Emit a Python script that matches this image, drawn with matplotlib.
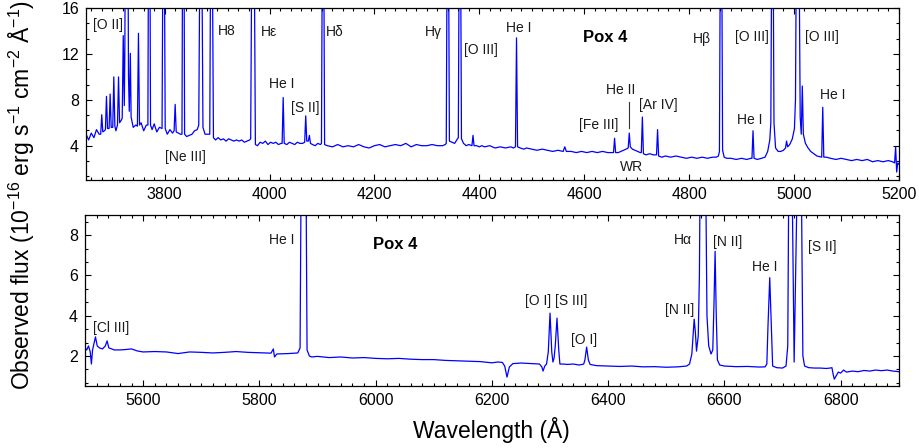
import matplotlib
matplotlib.use("Agg")
import matplotlib.pyplot as plt
from matplotlib.ticker import MultipleLocator

plt.rcParams["font.family"] = ["Liberation Sans", "DejaVu Sans"]
plt.rcParams["mathtext.fontset"] = "custom"
plt.rcParams["mathtext.rm"] = "Liberation Sans"
plt.rcParams["mathtext.it"] = "Liberation Sans:italic"

COLOR_SPEC = "#0000ff"
COLOR_TEXT = "#1a1a1a"

# ---------------------------------------------------------------- blue arm
WAVE_BLUE = [
    3650, 3655, 3660, 3665, 3670, 3675, 3678, 3680, 3682, 3685,
    3687, 3689, 3691, 3694, 3696, 3698, 3701, 3703, 3705, 3707,
    3710, 3712, 3714, 3717, 3719, 3721, 3723, 3724, 3725, 3730,
    3731, 3732.5, 3734.5, 3736, 3740, 3745, 3748, 3750, 3752, 3755,
    3760, 3765, 3768, 3769, 3772, 3773, 3776, 3780, 3785, 3790,
    3795, 3796.5, 3799.5, 3801, 3805, 3810, 3815, 3818, 3820, 3822,
    3826, 3830, 3833, 3834, 3837, 3838, 3842, 3847, 3852, 3857,
    3862, 3865, 3867, 3871, 3873, 3877, 3882, 3886, 3887.5, 3891,
    3893, 3897, 3902, 3907, 3912, 3917, 3922, 3927, 3932, 3937,
    3942, 3947, 3952, 3957, 3962, 3964, 3966, 3971, 3973, 3977,
    3982, 3987, 3992, 3997, 4002, 4007, 4012, 4017, 4022, 4024,
    4026, 4028, 4033, 4038, 4043, 4048, 4053, 4058, 4063, 4067,
    4069, 4071, 4074, 4076, 4078, 4082, 4087, 4092, 4097, 4099,
    4100.5, 4103.5, 4105, 4110, 4120, 4130, 4140, 4150, 4160, 4170,
    4180, 4190, 4200, 4210, 4220, 4230, 4240, 4250, 4260, 4270,
    4280, 4290, 4300, 4310, 4320, 4330, 4335, 4337, 4338.5, 4341.5,
    4343, 4348, 4353, 4357, 4360, 4361.5, 4364.5, 4366, 4370, 4375,
    4380, 4386, 4388, 4390, 4395, 4400, 4405, 4410, 4420, 4430,
    4440, 4450, 4460, 4465, 4469, 4471, 4473, 4478, 4485, 4490,
    4500, 4510, 4520, 4530, 4540, 4550, 4560, 4563, 4566, 4575,
    4585, 4595, 4605, 4615, 4625, 4635, 4645, 4652, 4656, 4658,
    4660, 4665, 4670, 4675, 4680, 4684, 4686, 4688, 4692, 4697,
    4702, 4707, 4709, 4711, 4713, 4718, 4725, 4732, 4738, 4740,
    4742, 4748, 4755, 4765, 4775, 4785, 4795, 4805, 4815, 4825,
    4835, 4845, 4852, 4856, 4858, 4859.5, 4862.5, 4864, 4867, 4872,
    4880, 4890, 4900, 4910, 4918, 4920, 4922, 4924, 4930, 4938,
    4945, 4950, 4954, 4956, 4957.5, 4960.5, 4962, 4965, 4970, 4975,
    4980, 4984, 4986, 4988, 4992, 4997, 5001, 5003, 5004.5, 5010,
    5012, 5014, 5016, 5018, 5022, 5027, 5032, 5038, 5044, 5053,
    5055, 5057, 5062, 5070, 5080, 5090, 5100, 5110, 5120, 5130,
    5140, 5150, 5160, 5170, 5180, 5188, 5192, 5194, 5196, 5198,
    5200,
]
FLUX_BLUE = [
    5.0, 4.5, 5.1, 4.7, 5.4, 5.0, 5.0, 6.7, 5.2, 5.3,
    5.4, 8.3, 5.5, 5.5, 8.5, 5.6, 5.6, 10.0, 5.7, 5.3,
    5.8, 10.0, 6.0, 6.2, 6.4, 13.6, 7.5, 12.0, 22.0, 22.0,
    10.0, 7.0, 12.05, 6.5, 5.6, 5.8, 5.7, 13.8, 5.8, 6.0,
    5.3, 5.8, 5.8, 20.0, 20.0, 5.8, 5.4, 5.9, 5.2, 5.6,
    5.5, 20.0, 20.0, 5.5, 5.0, 5.4, 5.1, 5.3, 7.6, 5.2,
    5.1, 5.0, 5.0, 20.0, 20.0, 5.0, 4.8, 4.9, 5.0, 5.3,
    5.4, 5.8, 20.0, 20.0, 5.6, 5.0, 5.0, 5.0, 20.0, 20.0,
    4.7, 4.5, 4.7, 4.5, 4.6, 4.4, 4.6, 4.5, 4.4, 4.5,
    4.4, 4.5, 4.3, 4.4, 4.5, 4.6, 20.0, 20.0, 4.1, 4.0,
    4.3, 4.2, 4.4, 4.1, 4.3, 4.2, 4.3, 4.1, 4.2, 4.2,
    8.2, 4.2, 4.1, 4.3, 4.2, 4.1, 4.3, 4.2, 4.2, 4.3,
    6.6, 4.4, 4.4, 4.9, 4.2, 4.1, 4.0, 4.2, 4.1, 4.2,
    20.0, 20.0, 4.1, 4.0, 3.9, 4.1, 3.9, 4.0, 3.9, 4.1,
    3.9, 3.8, 4.0, 4.1, 3.9, 4.0, 4.1, 4.0, 4.2, 3.9,
    4.1, 4.0, 4.0, 4.1, 4.0, 4.0, 4.1, 4.2, 20.0, 20.0,
    4.4, 4.3, 4.2, 4.5, 4.7, 20.0, 20.0, 4.6, 4.2, 4.0,
    4.1, 4.0, 4.9, 4.0, 4.0, 3.9, 4.0, 3.9, 4.0, 3.8,
    3.9, 3.8, 3.9, 3.8, 3.9, 13.4, 3.9, 3.8, 3.7, 3.8,
    3.7, 3.6, 3.7, 3.6, 3.5, 3.6, 3.5, 3.9, 3.5, 3.5,
    3.4, 3.5, 3.4, 3.5, 3.4, 3.5, 3.4, 3.4, 3.4, 4.65,
    3.4, 3.4, 3.5, 3.6, 3.7, 3.8, 5.1, 3.9, 3.7, 3.6,
    3.5, 3.4, 3.4, 6.5, 3.3, 3.2, 3.3, 3.2, 3.2, 5.4,
    3.1, 3.0, 3.1, 3.0, 3.1, 3.0, 2.9, 3.0, 2.9, 3.0,
    2.9, 3.0, 3.0, 3.1, 3.5, 20.0, 20.0, 3.6, 3.0, 2.9,
    2.9, 2.8, 2.9, 2.8, 2.9, 2.9, 5.3, 2.9, 2.8, 2.9,
    3.0, 3.5, 4.5, 6.0, 20.0, 20.0, 6.0, 3.8, 3.5, 3.5,
    3.6, 3.8, 4.4, 3.9, 4.1, 4.6, 5.5, 8.0, 20.0, 20.0,
    6.5, 5.0, 9.2, 5.0, 4.2, 3.8, 3.5, 3.3, 3.1, 3.0,
    7.35, 3.0, 3.0, 2.9, 2.8, 2.9, 2.8, 2.7, 2.8, 2.7,
    2.8, 2.6, 2.7, 2.6, 2.7, 2.6, 2.5, 3.9, 1.7, 2.5,
    2.4,
]

# ----------------------------------------------------------------- red arm
WAVE_RED = [
    5500, 5503, 5506, 5509, 5511, 5513, 5516, 5518, 5521, 5525,
    5530, 5535, 5538, 5541, 5546, 5550, 5560, 5570, 5580, 5590,
    5600, 5620, 5640, 5660, 5680, 5700, 5720, 5740, 5760, 5780,
    5800, 5820, 5824, 5826, 5830, 5850, 5866, 5870, 5872, 5880,
    5882, 5886, 5890, 5900, 5920, 5940, 5960, 5980, 6000, 6020,
    6040, 6060, 6080, 6100, 6120, 6140, 6160, 6180, 6200, 6210,
    6218, 6222, 6226, 6230, 6236, 6250, 6270, 6282, 6286, 6288,
    6291, 6294, 6297, 6300, 6303, 6305, 6307, 6309, 6312, 6315,
    6317, 6322, 6330, 6340, 6350, 6358, 6360, 6363, 6366, 6369,
    6380, 6400, 6420, 6440, 6460, 6480, 6500, 6520, 6535, 6540,
    6544, 6546, 6548, 6550, 6552, 6555, 6557, 6558.5, 6567.5, 6570,
    6573, 6577, 6580, 6582, 6584, 6586, 6588, 6592, 6600, 6620,
    6640, 6660, 6670, 6673, 6675, 6678, 6681, 6683, 6690, 6700,
    6706, 6709, 6711, 6716, 6720, 6726, 6732, 6735, 6738, 6745,
    6755, 6765, 6775, 6782, 6785, 6787, 6789, 6792, 6796, 6800,
    6805, 6810, 6820, 6830, 6840, 6850, 6860, 6870, 6880, 6890,
    6900,
]
FLUX_RED = [
    2.4, 2.3, 2.5, 2.2, 1.6, 2.3, 2.7, 2.95, 2.5, 2.4,
    2.35, 2.5, 2.75, 2.4, 2.35, 2.3, 2.3, 2.32, 2.35, 2.25,
    2.2, 2.22, 2.2, 2.12, 2.2, 2.18, 2.15, 2.18, 2.22, 2.18,
    2.16, 2.14, 2.35, 1.95, 2.1, 2.12, 2.15, 2.4, 12.0, 12.0,
    2.3, 2.0, 1.95, 1.98, 1.92, 1.95, 1.9, 1.92, 1.88, 1.86,
    1.88, 1.84, 1.82, 1.82, 1.78, 1.76, 1.74, 1.72, 1.66, 1.7,
    1.68, 1.5, 0.95, 1.45, 1.62, 1.65, 1.62, 1.6, 1.45, 1.25,
    1.5, 1.6, 2.2, 4.13, 2.2, 1.7, 1.9, 2.5, 3.88, 2.3,
    1.6, 1.6, 1.58, 1.6, 1.55, 1.6, 1.8, 2.44, 1.8, 1.58,
    1.52, 1.5, 1.48, 1.5, 1.46, 1.47, 1.44, 1.46, 1.5, 1.6,
    2.1, 3.0, 3.83, 3.2, 2.24, 3.0, 6.0, 12.0, 12.0, 4.0,
    2.5, 2.1, 2.3, 4.5, 7.2, 4.0, 1.8, 1.55, 1.5, 1.47,
    1.48, 1.45, 1.46, 1.6, 3.5, 5.89, 3.3, 1.5, 1.42, 1.4,
    1.5, 2.5, 12.0, 12.0, 1.7, 12.0, 12.0, 2.0, 1.5, 1.42,
    1.4, 1.4, 1.38, 1.4, 1.42, 1.1, 0.85, 1.0, 1.2, 1.15,
    1.3, 1.2, 1.25, 1.22, 1.28, 1.25, 1.3, 1.27, 1.3, 1.25,
    1.22,
]

# line identifications: (text, wavelength, flux)
LABELS_BLUE = [
    ("[O II]", 3692, 14.5), ("H8", 3919, 14.0), ("H\u03b5", 3999, 13.9),
    ("H\u03b4", 4125, 13.9), ("He I", 4024, 9.4), ("[S II]", 4068, 7.3),
    ("[Ne III]", 3839, 3.0), ("H\u03b3", 4312, 13.9), ("[O III]", 4403, 12.3),
    ("He I", 4476, 14.25), ("He II", 4670, 8.85), ("[Fe III]", 4628, 5.8),
    ("WR", 4691, 2.15), ("[Ar IV]", 4741, 7.55), ("H\u03b2", 4824, 13.3),
    ("[O III]", 4920, 13.45), ("[O III]", 5053, 13.45), ("He I", 4916, 6.25),
    ("He I", 5074, 8.4),
]
LABELS_RED = [
    ("[Cl III]", 5545, 3.4), ("He I", 5838, 7.75), ("[O I] [S III]", 6310, 4.75),
    ("[O I]", 6359, 2.8), ("[N II]", 6523, 4.3), ("H\u03b1", 6528, 7.75),
    ("[N II]", 6605, 7.65), ("He I", 6670, 6.4), ("[S II]", 6768, 7.4),
]
HEII_MARK = (4685, 5.5, 7.8)   # wavelength, bottom, top of the He II marker
OBJECT_BLUE = (4640, 13.45)
OBJECT_RED = (6034, 7.55)


def style_axis(ax, xmaj, xmin, ymaj, ymin):
    ax.xaxis.set_major_locator(MultipleLocator(xmaj))
    ax.xaxis.set_minor_locator(MultipleLocator(xmin))
    ax.yaxis.set_major_locator(MultipleLocator(ymaj))
    ax.yaxis.set_minor_locator(MultipleLocator(ymin))
    ax.tick_params(which="both", direction="in", top=True, right=True,
                   labelsize=11.5, width=0.8, colors="black", pad=5)
    ax.tick_params(which="major", length=4.5)
    ax.tick_params(which="minor", length=2.5)
    for s in ax.spines.values():
        s.set_linewidth(0.9)


fig = plt.figure(figsize=(9.19, 4.48), dpi=100)
ax1 = fig.add_axes([0.0936, 0.598, 0.8844, 0.384])
ax2 = fig.add_axes([0.0925, 0.138, 0.8855, 0.382])

# --- blue spectrum ---
ax1.plot(WAVE_BLUE, FLUX_BLUE, color=COLOR_SPEC, lw=0.9)
ax1.set_xlim(3650, 5200)
ax1.set_ylim(1, 16)
style_axis(ax1, 200, 20, 4, 4 / 3)
for txt, x, y in LABELS_BLUE:
    ax1.text(x, y, txt, ha="center", va="center", fontsize=10, color=COLOR_TEXT)
ax1.plot([HEII_MARK[0]] * 2, HEII_MARK[1:], color="#333333", lw=0.8)
ax1.text(*OBJECT_BLUE, "Pox 4", ha="center", va="center", fontsize=12,
         fontweight="bold", color="black")

# --- red spectrum ---
ax2.plot(WAVE_RED, FLUX_RED, color=COLOR_SPEC, lw=0.9)
ax2.set_xlim(5500, 6900)
ax2.set_ylim(0.5, 9)
style_axis(ax2, 200, 20, 2, 2 / 3)
for txt, x, y in LABELS_RED:
    ax2.text(x, y, txt, ha="center", va="center", fontsize=10, color=COLOR_TEXT)
ax2.text(*OBJECT_RED, "Pox 4", ha="center", va="center", fontsize=12,
         fontweight="bold", color="black")

fig.text(0.5345, 0.04, "Wavelength (\u00c5)", ha="center", va="center", fontsize=16.5)
fig.text(0.024, 0.565,
         "Observed flux (10$^{-16}$ erg s$^{-1}$ cm$^{-2}$ \u00c5$^{-1}$)",
         ha="center", va="center", rotation=90, fontsize=16.5)

fig.savefig("out.png", dpi=100)
